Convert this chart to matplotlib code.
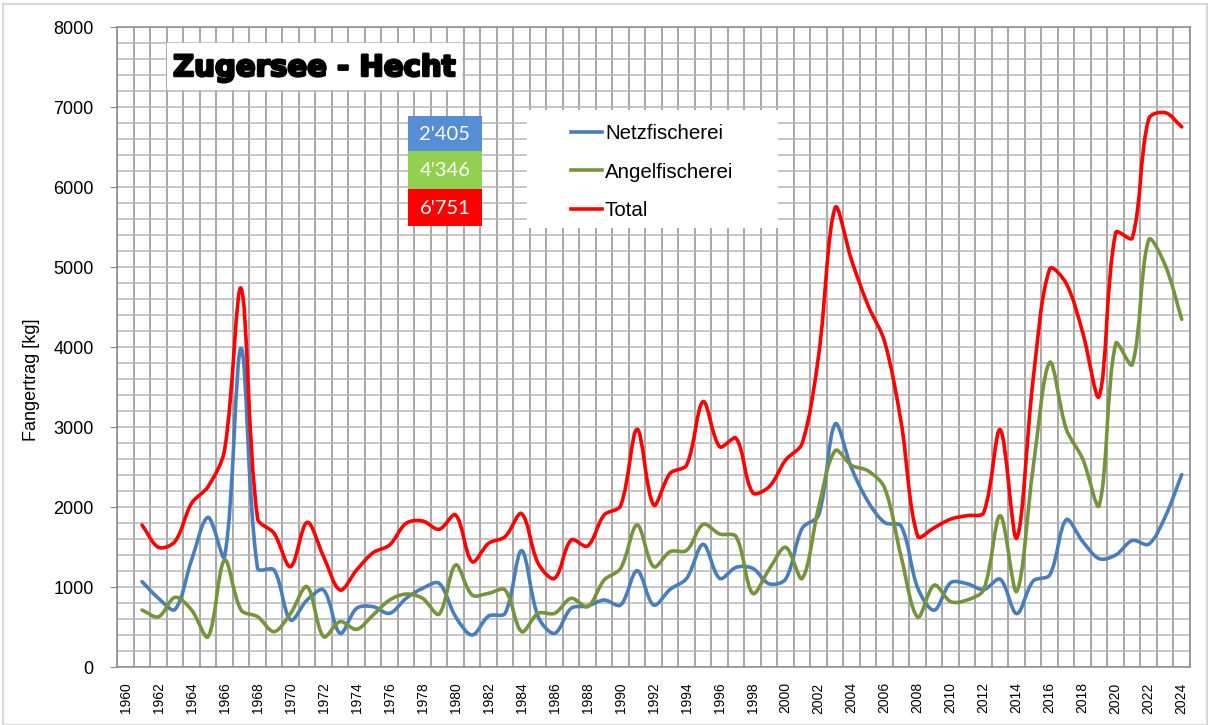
import numpy as np
import matplotlib
matplotlib.use("Agg")
import matplotlib.pyplot as plt
from matplotlib.path import Path
from matplotlib.patches import PathPatch, Rectangle
from matplotlib.lines import Line2D
import matplotlib.patheffects as pe

plt.rcParams["font.family"] = ["Liberation Sans", "DejaVu Sans"]

# ─── Data (kg per year) ───────────────────────────────────────────────────────
years = list(range(1961, 2025))

netz = [1067, 858, 720, 1337, 1871, 1379, 3983, 1233, 1212, 587,
        837, 962, 421, 733, 754, 671, 858, 983, 1046, 629,
        400, 637, 671, 1454, 629, 421, 733, 762, 837, 775,
        1204, 775, 971, 1108, 1533, 1108, 1246, 1233, 1040, 1100,
        1733, 1900, 3037, 2480, 2064, 1806, 1760, 989, 710, 1054,
        1041, 968, 1097, 667, 1075, 1150, 1840, 1568, 1354, 1400,
        1581, 1536, 1880, 2405]

angel = [712, 629, 871, 712, 379, 1337, 712, 629, 442, 671,
         1004, 379, 567, 471, 650, 837, 912, 858, 662, 1275,
         900, 921, 962, 442, 671, 671, 858, 754, 1087, 1233,
         1775, 1254, 1442, 1458, 1783, 1663, 1629, 921, 1221, 1496,
         1108, 2000, 2704, 2520, 2451, 2236, 1376, 624, 1023, 817,
         838, 968, 1892, 946, 2500, 3808, 2976, 2600, 2022, 4044,
         3781, 5339, 5021, 4346]

total = [1775, 1496, 1570, 2046, 2254, 2713, 4733, 1858, 1671, 1254,
         1808, 1379, 962, 1212, 1429, 1525, 1796, 1825, 1721, 1900,
         1317, 1546, 1629, 1917, 1296, 1108, 1587, 1512, 1900, 2016,
         2971, 2025, 2421, 2525, 3317, 2754, 2858, 2179, 2254, 2588,
         2796, 3900, 5741, 5080, 4515, 4064, 3053, 1634, 1741, 1849,
         1892, 1930, 2967, 1612, 3600, 4976, 4794, 4180, 3385, 5430,
         5362, 6852, 6929, 6751]

series_names = ["Netzfischerei", "Angelfischerei", "Total"]
line_colors = ["#4A7EBB", "#77933C", "#FF0000"]
box_colors = ["#558ED5", "#92D050", "#FF0000"]

W, H = 1213, 725
PX_PER_YEAR, PX_PER_KG = 16.5, 0.08   # used only to weight the smoothing


def px(x, y):
    # pixel position (from top-left) -> figure fraction
    return x / W, 1 - y / H


def smooth_path(xs, ys):
    # smoothed line: cubic Bezier through every point, tangents split by segment length
    pts = np.column_stack([xs, ys]).astype(float)
    scale = np.array([PX_PER_YEAR, PX_PER_KG])
    n = len(pts)
    fwd, back = [], []
    for i in range(n):
        p_prev = pts[i - 1] if i > 0 else pts[i]
        p_next = pts[i + 1] if i < n - 1 else pts[i]
        d_in = np.hypot(*((pts[i] - p_prev) * scale))
        d_out = np.hypot(*((p_next - pts[i]) * scale))
        tang = p_next - p_prev
        tot = d_in + d_out if d_in + d_out > 0 else 1
        fwd.append(pts[i] + tang * d_out / tot / 3)
        back.append(pts[i] - tang * d_in / tot / 3)
    verts = [pts[0]]
    codes = [Path.MOVETO]
    for i in range(n - 1):
        verts += [fwd[i], back[i + 1], pts[i + 1]]
        codes += [Path.CURVE4] * 3
    return Path(verts, codes)


fig = plt.figure(figsize=(W / 100, H / 100), dpi=100)
x0, y0 = px(117.3, 667)
x1, y1 = px(1190, 27)
ax = fig.add_axes([x0, y0, x1 - x0, y1 - y0])

# ─── Grid ─────────────────────────────────────────────────────────────────────
ax.set_xlim(1959.5, 2024.5)
ax.set_ylim(0, 8000)
ax.set_xticks(range(1960, 2025, 2))
ax.set_xticks(np.arange(1959.5, 2025, 1), minor=True)
ax.set_yticks(range(0, 8001, 1000))
ax.set_yticks(range(0, 8001, 200), minor=True)
ax.grid(True, axis="x", which="minor", color="#8f8f8f", linewidth=1.1)
ax.grid(True, axis="y", which="both", color="#b8b8b8", linewidth=1.1)
ax.set_axisbelow(True)
for s in ax.spines.values():
    s.set_color("#8a8a8a")
    s.set_linewidth(1.1)

ax.tick_params(axis="x", which="both", length=0, labelsize=10, pad=11, rotation=90)
ax.tick_params(axis="y", which="major", length=5, color="#8a8a8a", labelsize=13, pad=12)
ax.tick_params(axis="y", which="minor", length=0)

# ─── Lines ────────────────────────────────────────────────────────────────────
for vals, col in zip([netz, angel, total], line_colors):
    ax.add_patch(PathPatch(smooth_path(years, vals), facecolor="none",
                           edgecolor=col, linewidth=2.6,
                           capstyle="round", joinstyle="round", zorder=3))

fig.text(*px(31, 380), "Fangertrag [kg]", rotation=90, fontsize=13,
         ha="center", va="center")

# ─── Title box ────────────────────────────────────────────────────────────────
bx, by = px(167, 90)
fig.patches.append(Rectangle((bx, by), 295 / W, 47 / H, transform=fig.transFigure,
                             facecolor="white", edgecolor="none", zorder=5))
fig.text(*px(314, 68), "Zugersee - Hecht", fontsize=21, fontweight="bold",
         family="DejaVu Sans", ha="center", va="center", zorder=6,
         path_effects=[pe.withStroke(linewidth=1.8, foreground="black")])

# ─── Latest values boxes ──────────────────────────────────────────────────────
last_vals = [netz[-1], angel[-1], total[-1]]
box_tops = [116, 151, 189]
box_bots = [151, 189, 226]
for v, c, t, b in zip(last_vals, box_colors, box_tops, box_bots):
    rx, ry = px(408, b)
    fig.patches.append(Rectangle((rx, ry), 74 / W, (b - t) / H,
                                 transform=fig.transFigure, facecolor=c,
                                 edgecolor="none", zorder=5))
    label = f"{v:,}".replace(",", "'")
    fig.text(*px(445, (t + b) / 2 + 1), label, color="white", fontsize=14.5,
             family="Lato", ha="center", va="center", zorder=6)

# ─── Legend ───────────────────────────────────────────────────────────────────
lx, ly = px(527, 228)
fig.patches.append(Rectangle((lx, ly), 251 / W, 118 / H, transform=fig.transFigure,
                             facecolor="white", edgecolor="none", zorder=5))
handles = [Line2D([], [], color=c, linewidth=2.6) for c in line_colors]
leg = fig.legend(handles, series_names, loc="upper left", frameon=False,
                 bbox_to_anchor=px(571, 124), bbox_transform=fig.transFigure,
                 fontsize=14.8, handlelength=1.5, handletextpad=0.15,
                 labelspacing=0.95, borderpad=0, borderaxespad=0)
leg.set_zorder(8)

# chart border
fig.patches.append(Rectangle((3 / W, 0), 1204 / W, 721 / H, transform=fig.transFigure,
                             facecolor="none", edgecolor="#d9d9d9", linewidth=1.5))

plt.savefig("out.png", dpi=100)
plt.close()
